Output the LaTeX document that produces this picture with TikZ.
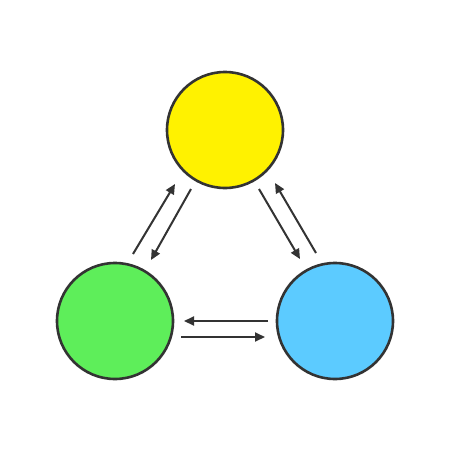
\documentclass[tikz,border=0pt]{standalone}
\usetikzlibrary{arrows.meta}
\definecolor{cyel}{HTML}{FFF200}
\definecolor{cgrn}{HTML}{5EEE5A}
\definecolor{cblu}{HTML}{5CCBFF}
\definecolor{cline}{HTML}{333333}
\begin{document}
\begin{tikzpicture}[x=1pt,y=-1pt,
  ball/.style={circle,draw=cline,line width=2.6pt,minimum size=116pt,inner sep=0pt},
  conn/.style={draw=cline,line width=2pt,-{Triangle[length=10pt,width=9pt]}}]
\fill[white] (0,0) rectangle (450,469);
\useasboundingbox (0,0) rectangle (450,469);
\node[ball,fill=cyel] (top) at (225,130) {};
\node[ball,fill=cgrn] (left) at (115,321) {};
\node[ball,fill=cblu] (right) at (335,321) {};
% left pair
\coordinate (a1) at (133,254); \coordinate (a2) at (175,184);
\coordinate (b1) at (191,189); \coordinate (b2) at (151,260);
% right pair
\coordinate (c1) at (259,189); \coordinate (c2) at (300,259);
\coordinate (d1) at (316,253); \coordinate (d2) at (275,183);
% bottom pair
\coordinate (e1) at (268,321); \coordinate (e2) at (184,321);
\coordinate (f1) at (181,337); \coordinate (f2) at (265,337);
\draw[conn] (a1) -- (a2);
\draw[conn] (b1) -- (b2);
\draw[conn] (c1) -- (c2);
\draw[conn] (d1) -- (d2);
\draw[conn] (e1) -- (e2);
\draw[conn] (f1) -- (f2);
\end{tikzpicture}
\end{document}
